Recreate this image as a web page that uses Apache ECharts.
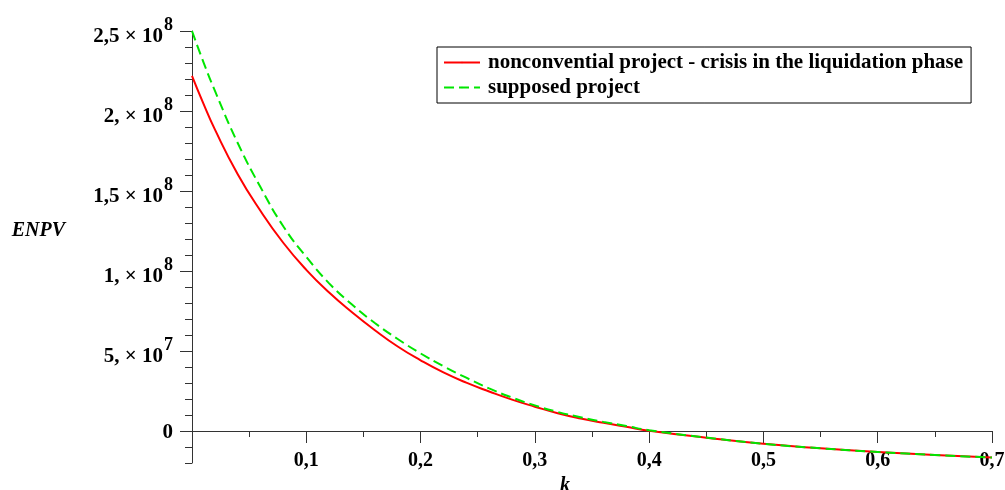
<!DOCTYPE html>
<html>
<head>
<meta charset="utf-8">
<script src="https://cdn.jsdelivr.net/npm/echarts@6/dist/echarts.min.js"></script>
<style>
html,body{margin:0;padding:0;background:#fff;}
#chart{width:1005px;height:490px;}
</style>
</head>
<body>
<div id="chart"></div>
<script>
// k values (x)
const kValues = [0, 0.01, 0.02, 0.04, 0.06, 0.08, 0.1, 0.12, 0.14, 0.16, 0.18, 0.2, 0.22, 0.24, 0.26, 0.28, 0.3, 0.32, 0.34, 0.36, 0.38, 0.4, 0.45, 0.5, 0.55, 0.6, 0.65, 0.7];
// ENPV in millions
const redENPV = [222, 204.6, 188.5, 160.5, 137.5, 117.5, 100.7, 86.5, 74.2, 63, 52.8, 44.2, 36.6, 30.2, 24.7, 19.6, 15.2, 11.1, 7.8, 5.1, 2.6, 0.2, -4.2, -8, -10.8, -13.1, -15, -16.6];
const greenENPV = [250, 230.6, 212.7, 180, 152.3, 127.8, 108.8, 92.3, 79, 67.5, 57.5, 48.5, 40.5, 33.3, 26.6, 20.9, 16, 11.9, 8.6, 5.7, 3.1, 0.5, -4.1, -8, -10.8, -13.1, -15, -16.6];
const seriesNames = ['nonconvential project - crisis in the liquidation phase', 'supposed project'];
// y tick labels
const yTickValues = [0, 50, 100, 150, 200, 250];
const yTickMantissa = ['0', '5,', '1,', '1,5', '2,', '2,5'];
const yTickExponent = ['', '7', '8', '8', '8', '8'];
const xTickValues = [0.1, 0.2, 0.3, 0.4, 0.5, 0.6, 0.7];
const xTickLabels = ['0,1', '0,2', '0,3', '0,4', '0,5', '0,6', '0,7'];

const FONT = "'Liberation Serif', 'Times New Roman', serif";
const AXC = '#333';

const chart = echarts.init(document.getElementById('chart'), null, {renderer: 'canvas'});
const pairs = arr => kValues.map((k, i) => [k, arr[i]]);

chart.setOption({
  animation: false,
  backgroundColor: '#fff',
  grid: [
    {left: 192, top: 31, width: 800, height: 432, outerBoundsMode: 'none', containLabel: false},
    {left: 192, top: 31, width: 800, height: 400, outerBoundsMode: 'none', containLabel: false}
  ],
  legend: {
    orient: 'vertical',
    left: 437, top: 47,
    padding: [5, 8, 5, 6],
    itemGap: 4,
    itemWidth: 36, itemHeight: 2,
    borderColor: '#000', borderWidth: 1,
    backgroundColor: '#fff',
    textStyle: {fontFamily: FONT, fontWeight: 'bold', fontSize: 21, color: '#000', lineHeight: 21, padding: [0, 0, 0, 3]},
    data: seriesNames
  },
  xAxis: [
    {
      gridIndex: 0, type: 'value', min: 0, max: 0.7, interval: 0.05,
      axisLine: {show: true, onZero: true, lineStyle: {color: AXC, width: 1}},
      axisTick: {show: true, length: 6, lineStyle: {color: AXC}},
      axisLabel: {show: false},
      splitLine: {show: false}
    },
    {
      gridIndex: 1, type: 'value', min: 0, max: 0.7, interval: 0.1,
      axisLine: {show: false},
      axisTick: {show: true, length: 12, lineStyle: {color: AXC}},
      axisLabel: {
        show: true, margin: 20,
        fontFamily: FONT, fontWeight: 'bold', fontSize: 20, color: '#000',
        formatter: v => {
          const i = xTickValues.findIndex(t => Math.abs(t - v) < 1e-9);
          return i < 0 ? '' : xTickLabels[i];
        }
      },
      splitLine: {show: false},
      name: 'k', nameLocation: 'middle', nameGap: 40,
      nameTextStyle: {fontFamily: FONT, fontWeight: 'bold', fontStyle: 'italic', fontSize: 20, color: '#000', padding: [0, 54, 0, 0]}
    }
  ],
  yAxis: [
    {
      gridIndex: 0, type: 'value', min: -20, max: 250, interval: 10,
      axisLine: {show: true, onZero: false, lineStyle: {color: AXC, width: 1}},
      axisTick: {show: true, length: 7, lineStyle: {color: AXC}},
      axisLabel: {show: false},
      splitLine: {show: false}
    },
    {
      gridIndex: 1, type: 'value', min: 0, max: 250, interval: 50,
      axisLine: {show: false},
      axisTick: {show: true, length: 12, lineStyle: {color: AXC}},
      axisLabel: {
        show: true, margin: 19,
        formatter: v => {
          const i = yTickValues.indexOf(v);
          if (i < 0) return '';
          if (!yTickExponent[i]) return '{z|' + yTickMantissa[i] + '}';
          return '{b|' + yTickMantissa[i] + ' × 10}{s|' + yTickExponent[i] + '}';
        },
        rich: {
          z: {fontFamily: FONT, fontWeight: 'bold', fontSize: 21, color: '#000', padding: [3, 0, 0, 0]},
          b: {fontFamily: FONT, fontWeight: 'bold', fontSize: 21, color: '#000', padding: [12, 0, 0, 0]},
          s: {fontFamily: FONT, fontWeight: 'bold', fontSize: 18, color: '#000', padding: [0, 0, 12, 1]}
        }
      },
      splitLine: {show: false},
      name: 'ENPV', nameLocation: 'middle', nameGap: 127, nameRotate: 0,
      nameTextStyle: {fontFamily: FONT, fontWeight: 'bold', fontStyle: 'italic', fontSize: 20, color: '#000'}
    }
  ],
  series: [
    {
      name: seriesNames[0], type: 'line', xAxisIndex: 0, yAxisIndex: 0,
      data: pairs(redENPV), smooth: 0.5, symbol: 'none',
      lineStyle: {color: '#ff0000', width: 2},
      itemStyle: {color: '#ff0000'}
    },
    {
      name: seriesNames[1], type: 'line', xAxisIndex: 0, yAxisIndex: 0,
      data: pairs(greenENPV), smooth: 0.5, symbol: 'none',
      lineStyle: {color: '#00e600', width: 2, type: [10, 5]},
      itemStyle: {color: '#00e600'}
    }
  ]
});
</script>
</body>
</html>
